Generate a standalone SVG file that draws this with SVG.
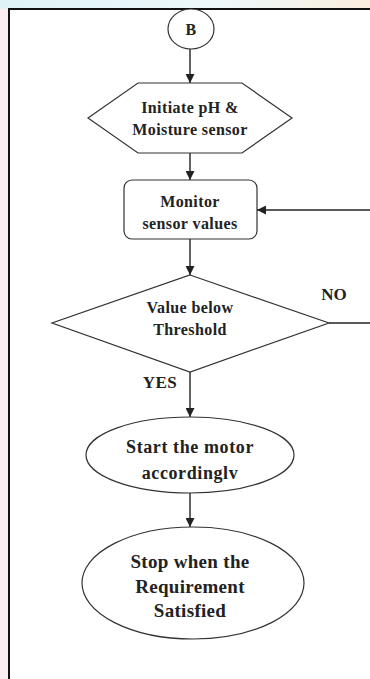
<svg xmlns="http://www.w3.org/2000/svg" width="370" height="679" viewBox="0 0 370 679">
<defs>
<linearGradient id="topbg" x1="0" y1="0" x2="1" y2="0">
<stop offset="0" stop-color="#dff3f6"/>
<stop offset="0.6" stop-color="#eef9fb"/>
<stop offset="1" stop-color="#fbeede"/>
</linearGradient>
<marker id="ah" viewBox="0 0 10 10" refX="10" refY="5" markerWidth="9" markerHeight="9" markerUnits="userSpaceOnUse" orient="auto">
<path d="M0,0 L10,5 L0,10 z" fill="#222"/>
</marker>
<style>
.shape{fill:#fff;stroke:#333;stroke-width:1.2}
.conn{stroke:#222;stroke-width:1.4;fill:none}
.t{font-family:"Liberation Serif","Times New Roman",serif;font-weight:bold;fill:#222;text-anchor:middle}
.s16{font-size:16px;letter-spacing:0.4px}
.s18{font-size:18px;letter-spacing:0.6px}
.s19{font-size:19px;letter-spacing:0.3px}
.s17{font-size:17px}
</style>
</defs>
<rect x="0" y="0" width="370" height="679" fill="#fff"/>
<rect x="0" y="0" width="370" height="9" fill="url(#topbg)"/>
<rect x="0" y="9" width="8" height="670" fill="#fbeef0"/>
<g id="frame">
<line x1="8" y1="9" x2="370" y2="9" stroke="#111" stroke-width="2"/>
<line x1="9" y1="9" x2="9" y2="679" stroke="#111" stroke-width="2"/>
</g>
<g id="connectors">
<line class="conn" x1="190" y1="49" x2="190" y2="83" marker-end="url(#ah)"/>
<line class="conn" x1="190" y1="153" x2="190" y2="180" marker-end="url(#ah)"/>
<line class="conn" x1="190" y1="239" x2="190" y2="275" marker-end="url(#ah)"/>
<line class="conn" x1="190" y1="372" x2="190" y2="417" marker-end="url(#ah)"/>
<line class="conn" x1="190" y1="493" x2="190" y2="527" marker-end="url(#ah)"/>
<line class="conn" x1="370" y1="210" x2="257" y2="210" marker-end="url(#ah)"/>
<line class="conn" x1="329" y1="323" x2="370" y2="323"/>
<text class="t s17" x="334" y="300">NO</text>
<text class="t s17" x="160" y="388" style="letter-spacing:0.5px">YES</text>
</g>
<g id="node-b">
<ellipse class="shape" cx="191" cy="29" rx="23" ry="20"/>
<text class="t s16" x="191" y="35">B</text>
</g>
<g id="node-init">
<polygon class="shape" points="138,83 242,83 292,118 242,153 138,153 88,118"/>
<text class="t s16" x="190" y="113">Initiate pH &amp;</text>
<text class="t s16" x="190" y="135">Moisture sensor</text>
</g>
<g id="node-monitor">
<rect class="shape" x="124" y="180" width="133" height="59" rx="8"/>
<text class="t s16" x="190" y="207">Monitor</text>
<text class="t s16" x="190" y="229">sensor values</text>
</g>
<g id="node-decision">
<polygon class="shape" points="190,275 329,323 190,372 52,323"/>
<text class="t s16" x="190" y="313">Value below</text>
<text class="t s16" x="190" y="335">Threshold</text>
</g>
<g id="node-start">
<ellipse class="shape" cx="190" cy="455" rx="104" ry="38"/>
<text class="t s18" x="190" y="453">Start the motor</text>
<text class="t s18" x="190" y="479">accordinglv</text>
</g>
<g id="node-stop">
<ellipse class="shape" cx="193" cy="583" rx="111" ry="56"/>
<text class="t s19" x="190" y="568">Stop when the</text>
<text class="t s19" x="190" y="593">Requirement</text>
<text class="t s19" x="190" y="617">Satisfied</text>
</g>
</svg>
